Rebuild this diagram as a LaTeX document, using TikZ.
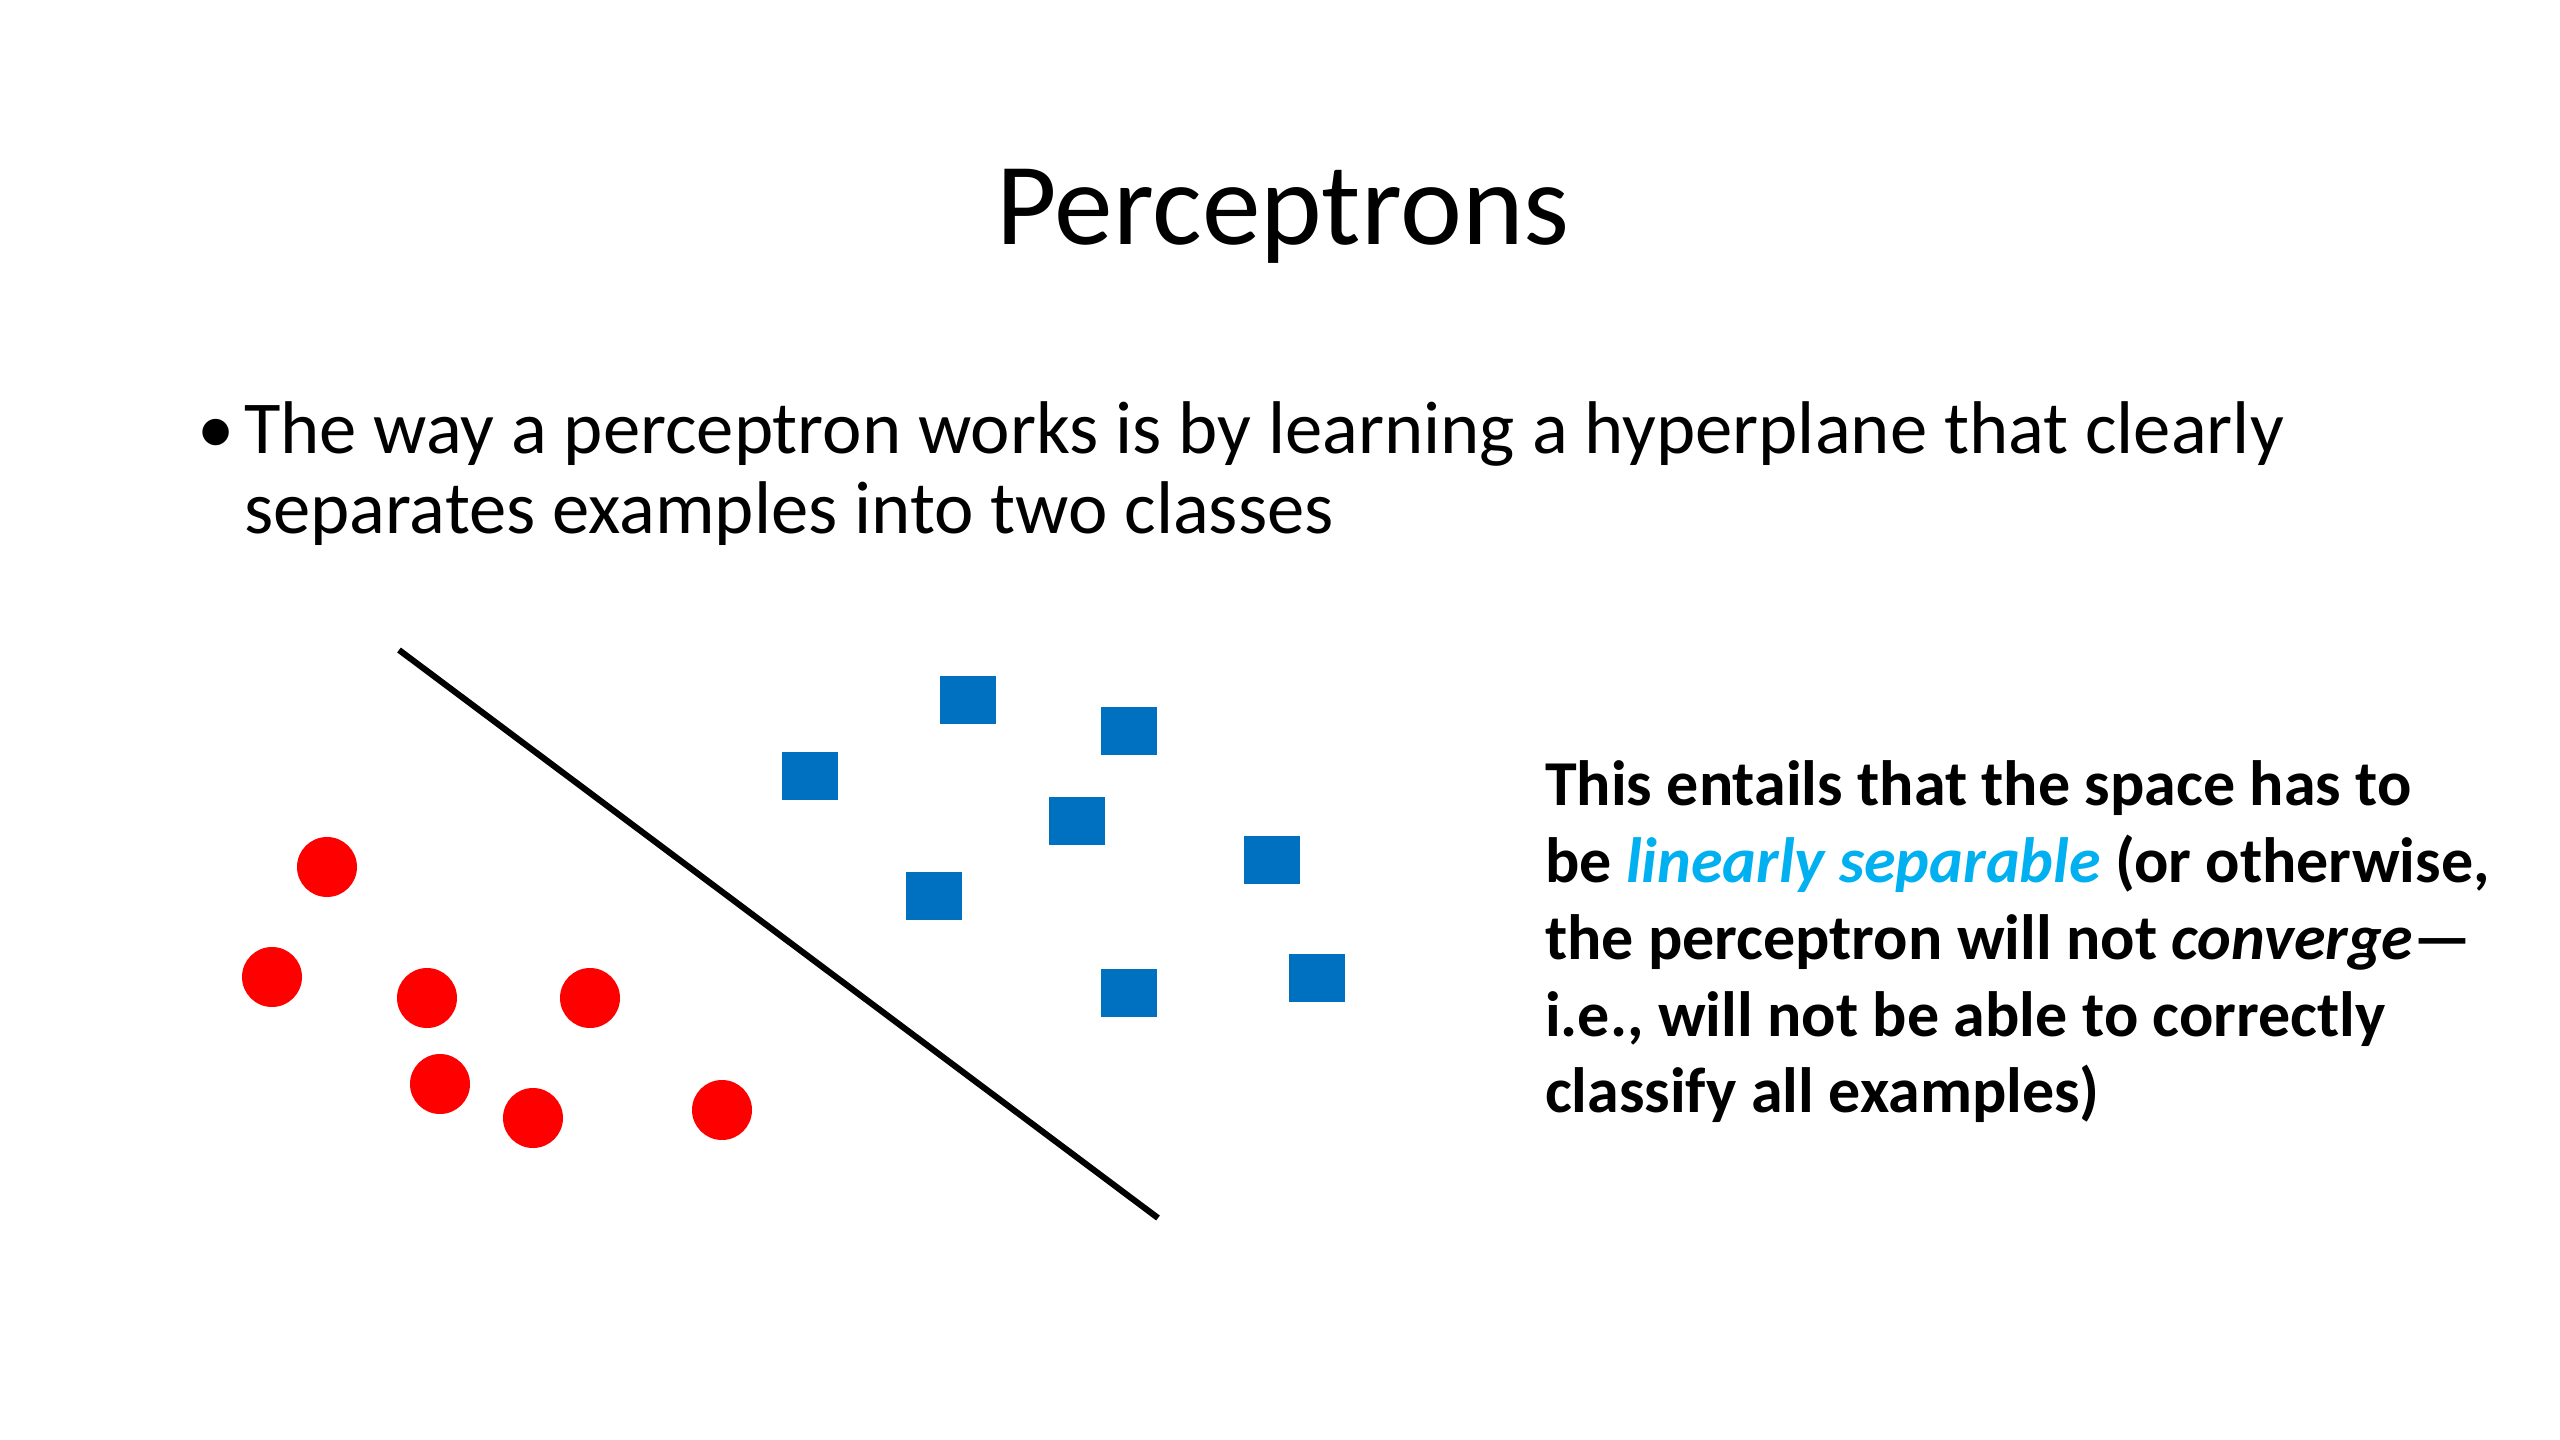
\documentclass[tikz,border=0pt]{standalone}
\usepackage{fontspec}
\setmainfont{Carlito}
\usepackage{xcolor}
\definecolor{redpt}{HTML}{FF0000}
\definecolor{bluept}{HTML}{0070C0}
\definecolor{cyantext}{HTML}{00B0F0}
\begin{document}
\begin{tikzpicture}[x=0.375pt,y=-0.375pt,
  txt/.style={anchor=base west,inner sep=0pt,outer sep=0pt},
  reddot/.style={circle,fill=redpt,draw=none,minimum size=22.5pt,inner sep=0pt},
  bluesq/.style={rectangle,fill=bluept,draw=none,minimum width=21pt,minimum height=18pt,inner sep=0pt},
  sepline/.style={line width=2.3pt,black}]
\useasboundingbox[fill=white] (0,0) rectangle (2560,1440);
% title
\node[anchor=base,inner sep=0pt,font=\fontsize{44pt}{53pt}\selectfont] (title) at (1283,245) {Perceptrons};
% bullet
\node[txt,font=\fontsize{28pt}{34pt}\selectfont] (bul) at (197,453) {\textbullet};
\node[txt,font=\fontsize{28pt}{34pt}\selectfont] (b1) at (244,453) {The way a perceptron works is by learning a hyperplane that clearly};
\node[txt,font=\fontsize{28pt}{34pt}\selectfont] (b2) at (244,533) {separates examples into two classes};
% separating line
\coordinate (ls) at (399,650);
\coordinate (le) at (1158,1218);
\draw[sepline] (ls) -- (le);
% red points
\node[reddot] (r1) at (327,867) {};
\node[reddot] (r2) at (272,977) {};
\node[reddot] (r3) at (427,998) {};
\node[reddot] (r4) at (590,998) {};
\node[reddot] (r5) at (440,1084) {};
\node[reddot] (r6) at (533,1118) {};
\node[reddot] (r7) at (722,1110) {};
% blue points
\node[bluesq] (s1) at (968,700) {};
\node[bluesq] (s2) at (1129,731) {};
\node[bluesq] (s3) at (810,776) {};
\node[bluesq] (s4) at (1077,821) {};
\node[bluesq] (s5) at (1272,860) {};
\node[bluesq] (s6) at (934,896) {};
\node[bluesq] (s7) at (1129,993) {};
\node[bluesq] (s8) at (1317,978) {};
% right text
\begin{scope}[every node/.style={txt,font=\bfseries\fontsize{24pt}{29pt}\selectfont}]
\node (t1) at (1545,805) {This entails that the space has to};
\node (t2) at (1545,882) {be \textcolor{cyantext}{\itshape linearly separable} (or otherwise,};
\node (t3) at (1545,959) {the perceptron will not \textit{converge}---};
\node (t4) at (1545,1036) {i.e., will not be able to correctly};
\node (t5) at (1545,1112) {classify all examples)};
\end{scope}
\end{tikzpicture}
\end{document}
